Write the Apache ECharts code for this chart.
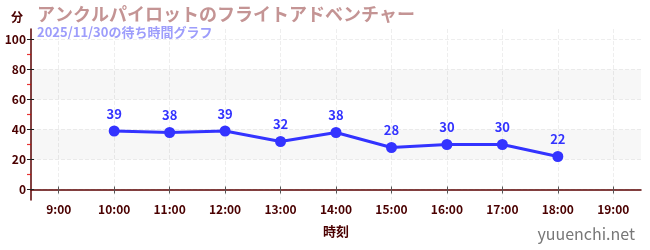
<!DOCTYPE html>
<html><head><meta charset="utf-8">
<script src="https://cdn.jsdelivr.net/npm/echarts@6/dist/echarts.min.js"></script>
<style>html,body{margin:0;padding:0;background:#fff}#c{width:650px;height:250px}</style>
</head><body><div id="c"></div>
<script>
const hours = [10, 11, 12, 13, 14, 15, 16, 17, 18];
const waits = [39, 38, 39, 32, 38, 28, 30, 30, 22];
const xTicks = [9, 10, 11, 12, 13, 14, 15, 16, 17, 18, 19];
const yTicks = [0, 20, 40, 60, 80, 100];
const yMinor = [10, 30, 50, 70, 90];
const bands = [[20, 40], [60, 80]];
const titleText = 'アンクルパイロットのフライトアドベンチャー';
const subText = '2025/11/30の待ち時間グラフ';

const font = '"Noto Sans CJK JP", "Noto Sans", sans-serif';
const chart = echarts.init(document.getElementById('c'));
const xRange = { type: 'value', min: 8.5, max: 19.5 };
const yRange = { type: 'value', min: -7, max: 107 };
chart.setOption({
  animation: false,
  textStyle: { fontFamily: font },
  title: {
    text: titleText, subtext: subText, left: 32, top: 0, itemGap: 3,
    textStyle: { color: '#c49494', fontSize: 18, fontWeight: 'bold', fontFamily: font },
    subtextStyle: { color: '#9d9dfb', fontSize: 13, fontWeight: 'bold', fontFamily: font }
  },
  graphic: [{
    type: 'text', right: 15, bottom: 8,
    style: { text: 'yuuenchi.net', fill: '#777', fontSize: 16, fontFamily: font }
  }],
  grid: { left: 31, right: 9, top: 29, bottom: 50 },
  xAxis: [Object.assign({}, xRange, {
    name: '時刻', nameLocation: 'middle', nameGap: 25,
    nameTextStyle: { color: '#4a0000', fontSize: 13, fontWeight: 'bold' },
    axisLine: { lineStyle: { color: '#5a0000', width: 1.5 } },
    axisTick: { customValues: xTicks, length: 4, lineStyle: { color: '#555' } },
    axisLabel: { customValues: xTicks, color: '#4a0000', fontSize: 12, fontWeight: 'bold', margin: 3,
      formatter: v => v + ':00' },
    splitLine: { show: true, lineStyle: { color: '#eee', type: 'dashed' } }
  }), Object.assign({}, xRange, {
    position: 'bottom', axisLine: { show: false },
    axisTick: { customValues: xTicks, inside: true, length: 3, lineStyle: { color: '#555' } },
    axisLabel: { show: false }, splitLine: { show: false }
  })],
  yAxis: [Object.assign({}, yRange, {
    name: '分', nameLocation: 'end', nameGap: 6,
    nameTextStyle: { color: '#4a0000', fontSize: 12, fontWeight: 'bold', align: 'right', padding: [0, 8, 0, 0] },
    axisLine: { show: true, lineStyle: { color: '#5a0000', width: 1.5 } },
    axisTick: { show: true, customValues: yTicks, length: 4, lineStyle: { color: '#222' } },
    axisLabel: { customValues: yTicks, color: '#4a0000', fontSize: 12, fontWeight: 'bold', margin: 5 },
    splitLine: { show: true, lineStyle: { color: '#eee', type: 'dashed' } }
  }), Object.assign({}, yRange, {
    position: 'left', axisLine: { show: false },
    axisTick: { show: true, customValues: yTicks, inside: true, length: 3, lineStyle: { color: '#222' } },
    axisLabel: { show: false }, splitLine: { show: false }
  })],
  series: [{
    type: 'line', data: hours.map((h, i) => [h, waits[i]]),
    symbol: 'circle', symbolSize: 11,
    lineStyle: { color: '#3333ff', width: 3 },
    itemStyle: { color: '#3333ff' },
    label: { show: true, position: 'top', color: '#3333ff', fontSize: 13, fontWeight: 'bold', distance: 5 },
    markArea: {
      silent: true, itemStyle: { color: 'rgba(0,0,0,0.03)' },
      data: bands.map(b => [{ yAxis: b[0] }, { yAxis: b[1] }])
    },
    z: 3
  }, {
    type: 'scatter', data: yMinor.map(v => [8.5, v]), symbol: 'rect', symbolSize: [4, 1.2],
    symbolOffset: [-2, 0], itemStyle: { color: '#e00000' }, silent: true, label: { show: false },
    clip: false, z: 4
  }]
});
</script></body></html>
